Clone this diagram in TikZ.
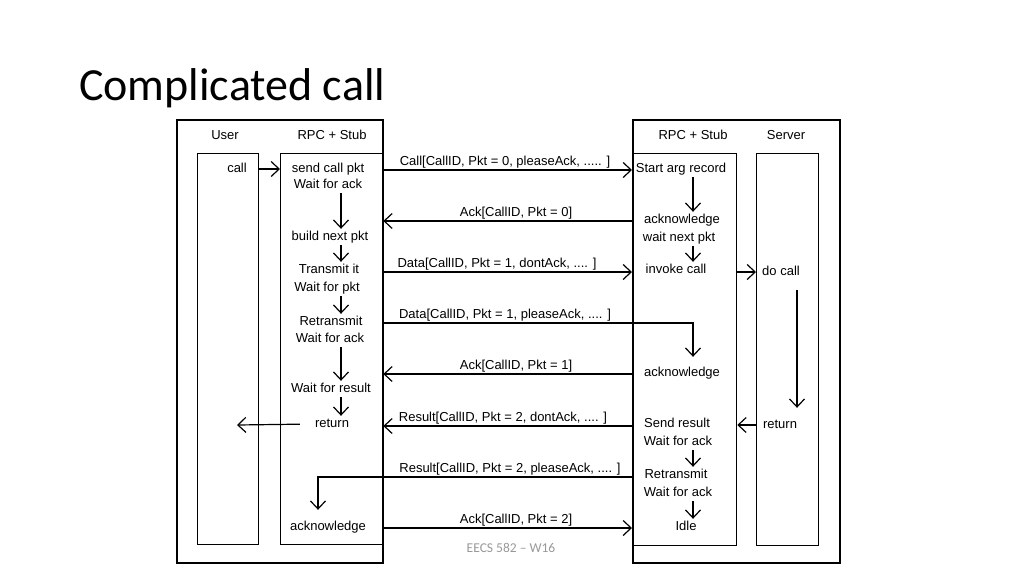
\documentclass[tikz,border=0pt]{standalone}
\usepackage{fontspec}
\setmainfont{Liberation Sans}
\newfontfamily\titlefont{Carlito}
\usetikzlibrary{arrows.meta}
\begin{document}
\begin{tikzpicture}[x=1pt,y=-1pt,
  box/.style={draw, line width=1.3pt, inner sep=0pt, anchor=north west},
  obox/.style={box, line width=1.9pt},
  txt/.style={font=\fontsize{13}{15}\selectfont, inner sep=2pt, text height=9pt, text depth=3pt},
  lbl/.style={txt, anchor=base},
  arr/.style={line width=1.2pt, -{Straight Barb[length=8pt,width=15pt]}}
]
\fill[white] (0,0) rectangle (1024,576);
\useasboundingbox (0,0) rectangle (1024,576);

% title and footer
\node[anchor=base west, inner sep=0pt, font=\titlefont\fontsize{46}{50}\selectfont] (title) at (79,100) {Complicated call};
\node[font=\titlefont\fontsize{13.5}{15}\selectfont, text=black!40] (foot) at (511,548) {EECS 582 – W16};

% boxes
\node[obox, minimum width=206pt, minimum height=443pt] (louter) at (176,119) {};
\node[box, minimum width=61pt, minimum height=391pt] (user) at (197,153) {};
\node[box, minimum width=102pt, minimum height=391pt] (lstub) at (280,153) {};
\node[obox, minimum width=207pt, minimum height=443pt] (router) at (632,119) {};
\node[box, minimum width=104pt, minimum height=392pt] (rstub) at (632,153) {};
\node[box, minimum width=62pt, minimum height=392pt] (server) at (756,153) {};

% headers
\node[txt] (huser) at (225,136) {User};
\node[txt] (hls) at (332,136) {RPC + Stub};
\node[txt] (hrs) at (693,136) {RPC + Stub};
\node[txt] (hsrv) at (786,136) {Server};

% left side texts
\node[txt] (ucall) at (237,169) {call};
\node[txt] (ls1) at (328,169) {send call pkt};
\node[txt] (ls2) at (328,185) {Wait for ack};
\node[txt] (ls3) at (330,237) {build next pkt};
\node[txt] (ls4) at (329,270) {Transmit it};
\node[txt] (ls5) at (327,288) {Wait for pkt};
\node[txt] (ls6) at (331,322) {Retransmit};
\node[txt] (ls7) at (330,339) {Wait for ack};
\node[txt] (ls8) at (331,389) {Wait for result};
\node[txt] (ls9) at (332,424) {return};
\node[txt] (ls10) at (328,527) {acknowledge};

% right side texts
\node[txt] (rs1) at (681,169) {Start arg record};
\node[txt] (rs2) at (682,220) {acknowledge};
\node[txt] (rs3) at (679,238) {wait next pkt};
\node[txt] (rs4) at (676,270) {invoke call};
\node[txt] (rs5) at (682,373) {acknowledge};
\node[txt] (rs6) at (677,424) {Send result};
\node[txt] (rs7) at (678,442) {Wait for ack};
\node[txt] (rs8) at (676,475) {Retransmit};
\node[txt] (rs9) at (678,493) {Wait for ack};
\node[txt] (rs10) at (686,527) {Idle};
\node[txt] (sdo) at (781,272) {do call};
\node[txt] (sret) at (780,425) {return};

% column coordinates
\coordinate (lc) at (341,0);
\coordinate (rc) at (693,0);
\coordinate (sc) at (797,0);
\coordinate (bc) at (318,0);
\coordinate (uret) at (237,425);

% vertical flow arrows
\draw[arr] (ls2.south -| lc) -- (ls3.north -| lc);
\draw[arr] (ls3.south -| lc) -- (ls4.north -| lc);
\draw[arr] (ls5.south -| lc) -- (ls6.north -| lc);
\draw[arr] (ls7.south -| lc) -- (ls8.north -| lc);
\draw[arr] (ls8.south -| lc) -- (ls9.north -| lc);
\draw[arr] (rs1.south -| rc) -- (rs2.north -| rc);
\draw[arr] (rs3.south -| rc) -- (rs4.north -| rc);
\draw[arr] (rs7.south -| rc) -- (rs8.north -| rc);
\draw[arr] (rs9.south -| rc) -- (rs10.north -| rc);
\draw[arr, shorten <=10pt, shorten >=9pt] (sdo.south -| sc) -- (sret.north -| sc);

% local horizontal arrows
\draw[arr] (user.east |- ucall) -- (lstub.west |- ucall);
\draw[arr, shorten <=13pt] (ls9.west) -- (uret);
\draw[arr] (rstub.east |- sdo) -- (server.west |- sdo);
\draw[arr] (server.west |- sret) -- (rstub.east |- sret);

% messages
\coordinate (m1) at (0,170);
\coordinate (m2) at (0,221);
\coordinate (m3) at (0,272);
\coordinate (m4) at (0,323);
\coordinate (m5) at (0,374);
\coordinate (m6) at (0,426);
\coordinate (m7) at (0,477);
\coordinate (m8) at (0,528);

\draw[arr] (lstub.east |- m1) -- (rstub.west |- m1);
\draw[arr] (rstub.west |- m2) -- (lstub.east |- m2);
\draw[arr] (lstub.east |- m3) -- (rstub.west |- m3);
\draw[arr, shorten >=8pt] (lstub.east |- m4) -| (rs5.north -| rc);
\draw[arr] (rstub.west |- m5) -- (lstub.east |- m5);
\draw[arr] (rstub.west |- m6) -- (lstub.east |- m6);
\draw[arr, shorten >=9pt] (rstub.west |- m7) -| (ls10.north -| bc);
\draw[arr] (lstub.east |- m8) -- (rstub.west |- m8);

\node[lbl] (l1) at (505,165) {Call[CallID, Pkt = 0, pleaseAck, ..... ]};
\node[lbl] (l2) at (516,216) {Ack[CallID, Pkt = 0]};
\node[lbl] (l3) at (497,267) {Data[CallID, Pkt = 1, dontAck, .... ]};
\node[lbl] (l4) at (505,318) {Data[CallID, Pkt = 1, pleaseAck, .... ]};
\node[lbl] (l5) at (516,369) {Ack[CallID, Pkt = 1]};
\node[lbl] (l6) at (503,421) {Result[CallID, Pkt = 2, dontAck, .... ]};
\node[lbl] (l7) at (510,472) {Result[CallID, Pkt = 2, pleaseAck, .... ]};
\node[lbl] (l8) at (516,523) {Ack[CallID, Pkt = 2]};
\end{tikzpicture}
\end{document}
